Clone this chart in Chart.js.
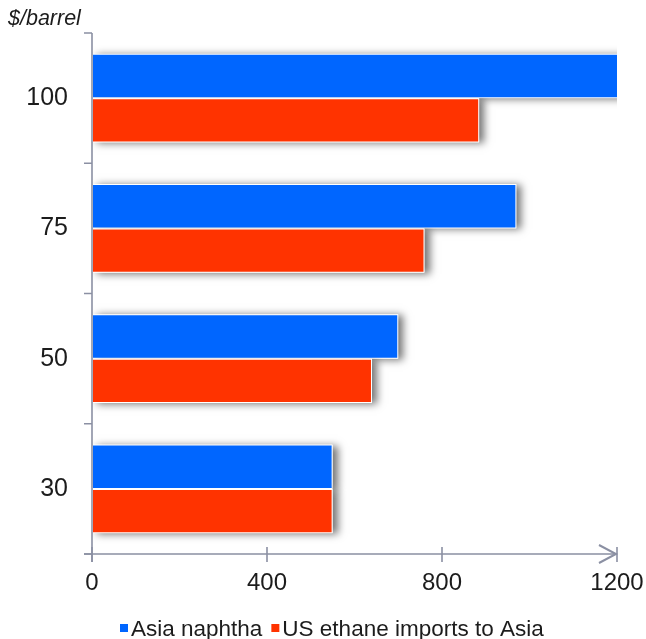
<!DOCTYPE html>
<html>
<head>
<meta charset="utf-8">
<script src="https://cdn.jsdelivr.net/npm/chart.js@4/dist/chart.umd.min.js"></script>
<style>
  html, body { margin: 0; padding: 0; background: #ffffff; }
  #wrap { width: 646px; height: 639px; position: relative; }
</style>
</head>
<body>
<div id="wrap"><canvas id="c"></canvas></div>
<script>
// Crude price scenarios ($/barrel) and feedstock cost comparison
const categories = ['100', '75', '50', '30'];
const naphtha = [1250, 970, 700, 550];
const ethaneImports = [885, 760, 640, 550];
const xTicks = [0, 400, 800, 1200];
const seriesNames = ['Asia naphtha', 'US ethane imports to Asia'];
const unitLabel = '$/barrel';

const BLUE = '#0066ff';
const RED = '#ff3300';
const AXIS = '#8b90a3';
const TEXT = '#1c1c1c';
const FONT = '"Liberation Sans", Arial, sans-serif';

// Soft drop shadow behind every bar
const barShadow = {
  id: 'barShadow',
  beforeDatasetsDraw(chart) {
    const { ctx, chartArea: a } = chart;
    ctx.save();
    ctx.beginPath();
    ctx.rect(a.left, a.top, a.right - a.left, a.bottom - a.top);
    ctx.clip();
    ctx.shadowColor = 'rgba(0,0,0,0.55)';
    ctx.shadowBlur = 8;
    ctx.shadowOffsetX = 5;
    ctx.shadowOffsetY = 1;
    ctx.fillStyle = '#ffffff';
    chart.data.datasets.forEach((ds, i) => {
      chart.getDatasetMeta(i).data.forEach(bar => {
        const p = bar.getProps(['x', 'y', 'base', 'height'], true);
        const l = Math.min(p.base, p.x), w = Math.abs(p.x - p.base);
        ctx.fillRect(l, p.y - p.height / 2, w, p.height);
      });
    });
    ctx.restore();
  }
};

// Axis lines, tick marks, arrow head, unit label and legend
const decorations = {
  id: 'decorations',
  afterDraw(chart) {
    const { ctx, chartArea: a, scales } = chart;
    const xs = scales.x;
    ctx.save();
    ctx.strokeStyle = AXIS;
    ctx.lineWidth = 1.6;
    ctx.lineCap = 'butt';

    // y axis with boundary ticks
    ctx.beginPath();
    ctx.moveTo(a.left, a.top);
    ctx.lineTo(a.left, a.bottom + 8);
    const n = categories.length;
    for (let i = 0; i <= n; i++) {
      const yy = a.top + i * (a.bottom - a.top) / n;
      ctx.moveTo(a.left - 8, yy);
      ctx.lineTo(a.left, yy);
    }
    ctx.stroke();

    // x axis with ticks and arrow
    ctx.beginPath();
    ctx.moveTo(a.left - 8, a.bottom);
    ctx.lineTo(a.right, a.bottom);
    xTicks.forEach(v => {
      const px = xs.getPixelForValue(v);
      ctx.moveTo(px, a.bottom - 7);
      ctx.lineTo(px, a.bottom + 8);
    });
    ctx.stroke();
    ctx.lineWidth = 2;
    ctx.beginPath();
    ctx.moveTo(a.right - 18, a.bottom - 9);
    ctx.lineTo(a.right - 1, a.bottom);
    ctx.lineTo(a.right - 18, a.bottom + 9);
    ctx.stroke();

    // unit label
    ctx.fillStyle = TEXT;
    ctx.font = 'italic 21.5px ' + FONT;
    ctx.textAlign = 'left';
    ctx.textBaseline = 'alphabetic';
    ctx.fillText(unitLabel, 8, 25);

    // legend
    ctx.font = '22.5px ' + FONT;
    const box = 8, gap = 3, itemGap = 9;
    const items = chart.data.datasets.map(ds => ({ text: ds.label, color: ds.backgroundColor }));
    let x = 120;
    const base = 636;
    items.forEach(it => {
      ctx.fillStyle = it.color;
      ctx.fillRect(x, base - 12, box, box);
      x += box + gap;
      ctx.fillStyle = TEXT;
      ctx.fillText(it.text, x, base);
      x += ctx.measureText(it.text).width + itemGap;
    });
    ctx.restore();
  }
};

new Chart(document.getElementById('c'), {
  type: 'bar',
  data: {
    labels: categories,
    datasets: [
      { label: seriesNames[0], data: naphtha, backgroundColor: BLUE },
      { label: seriesNames[1], data: ethaneImports, backgroundColor: RED }
    ]
  },
  options: {
    indexAxis: 'y',
    responsive: true,
    maintainAspectRatio: false,
    animation: false,
    devicePixelRatio: 1,
    layout: { padding: { top: 33, right: 29, left: 0, bottom: 0 } },
    datasets: {
      bar: {
        categoryPercentage: 0.68,
        barPercentage: 1.0,
        borderColor: '#ffffff',
        borderWidth: 1,
        borderSkipped: false
      }
    },
    plugins: {
      legend: { display: false },
      tooltip: { enabled: false }
    },
    scales: {
      x: {
        min: 0,
        max: 1200,
        afterBuildTicks: s => { s.ticks = xTicks.map(v => ({ value: v })); },
        afterFit: s => { s.height = 85; s.paddingLeft = 0; s.paddingRight = 0; },
        grid: { display: false, drawTicks: false },
        border: { display: false },
        ticks: {
          padding: 15, color: TEXT, font: { family: FONT, size: 24 },
          callback: v => String(v)
        }
      },
      y: {
        afterFit: s => { s.width = 92; s.paddingTop = 0; s.paddingBottom = 0; },
        grid: { display: false, drawTicks: false },
        border: { display: false },
        ticks: { padding: 24, color: TEXT, font: { family: FONT, size: 25 } }
      }
    }
  },
  plugins: [barShadow, decorations]
});
</script>
</body>
</html>
